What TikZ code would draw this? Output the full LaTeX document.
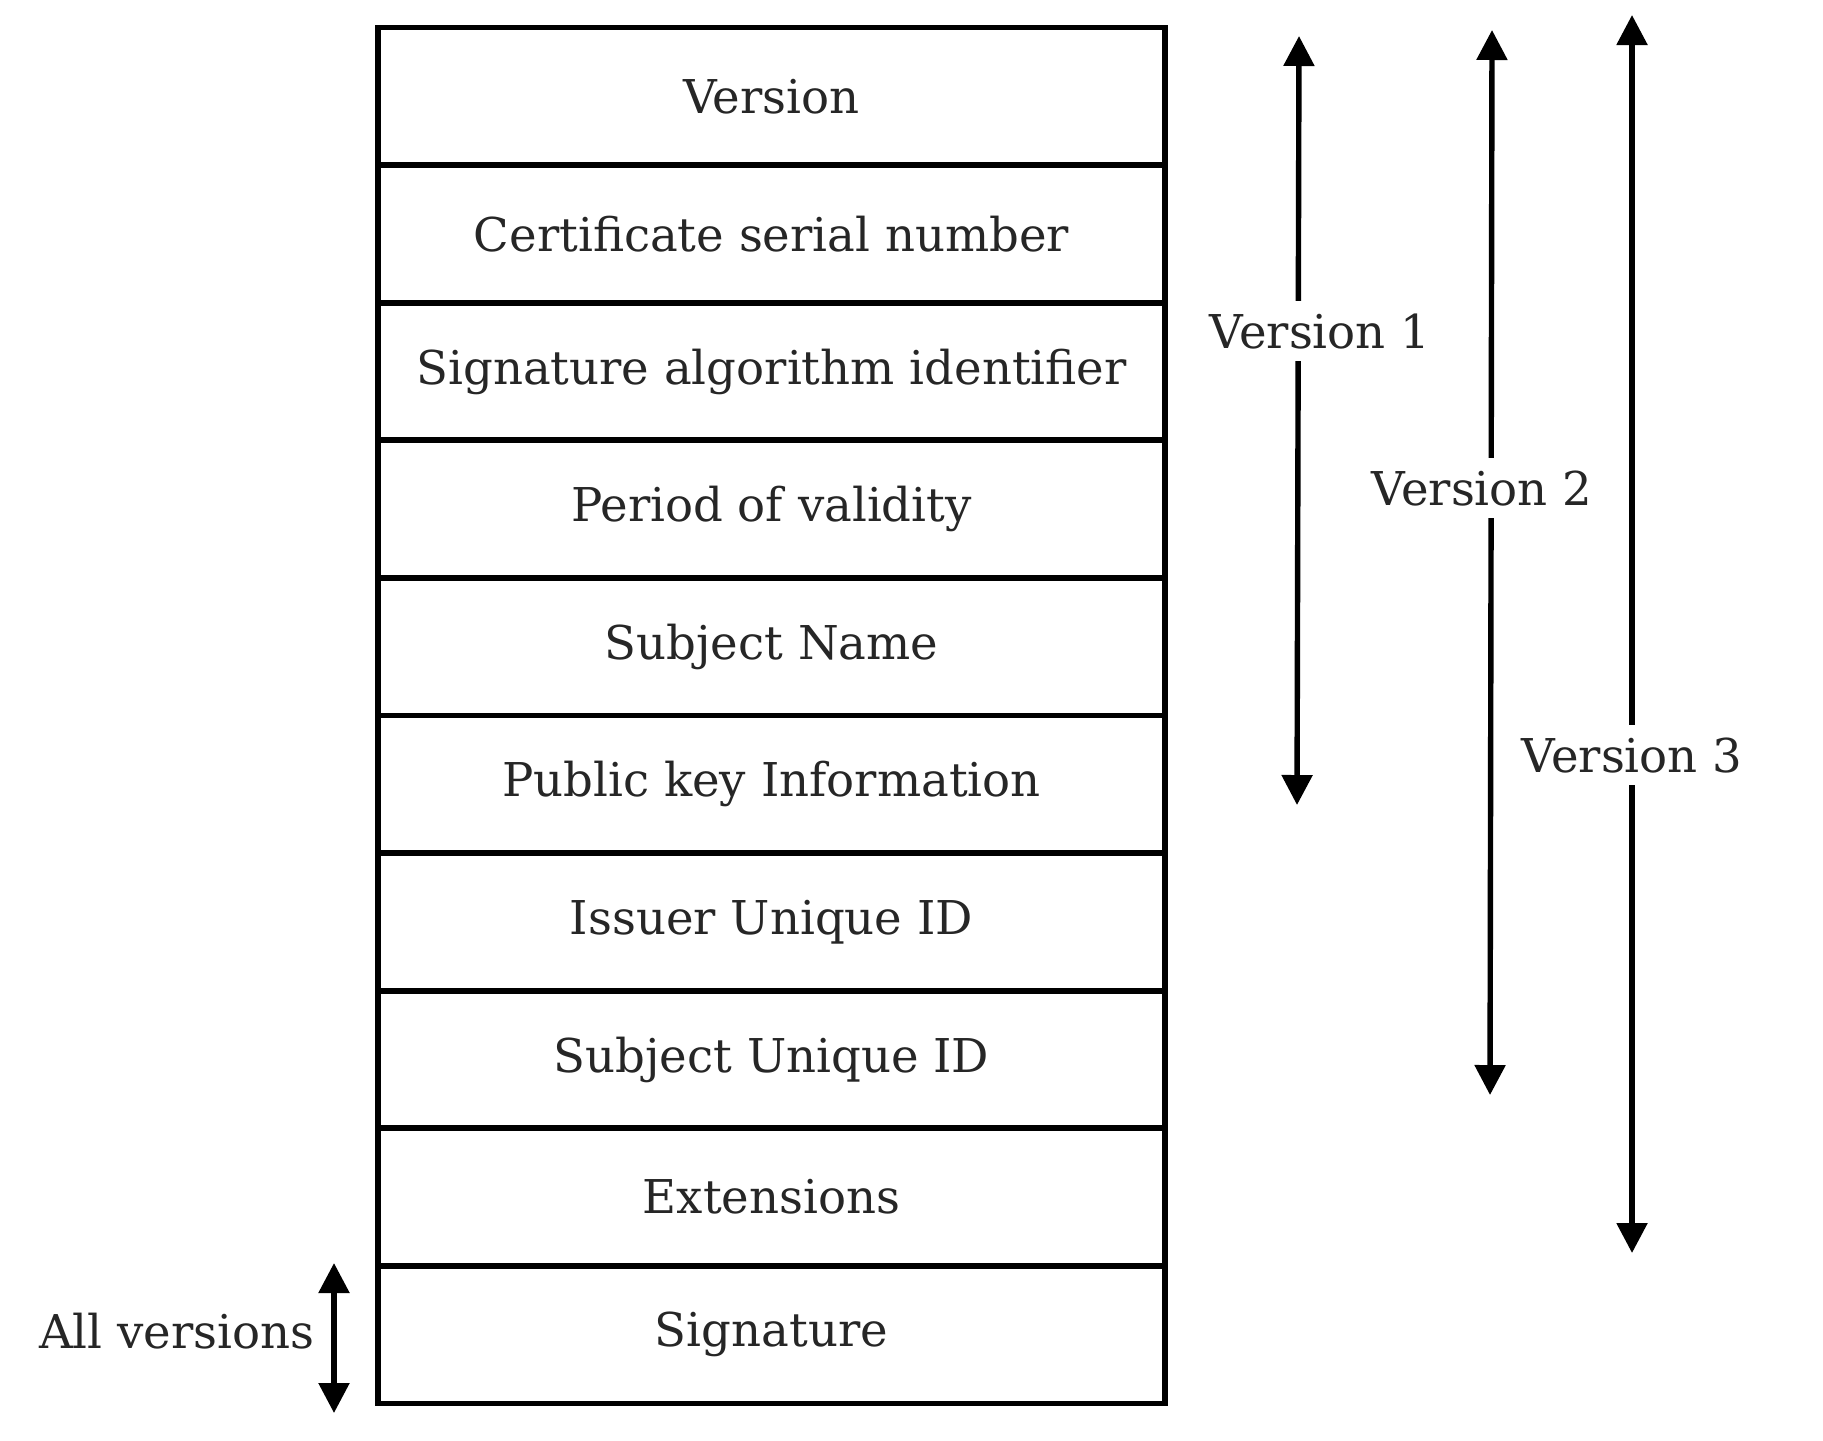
\documentclass[tikz,border=0pt]{standalone}
\usepackage{fontspec}
\setmainfont{DejaVu Serif}
\usetikzlibrary{arrows.meta}
\begin{document}
\begin{tikzpicture}[x=0.5pt,y=-0.5pt,
  field/.style={draw=black, line width=2.9pt, minimum width=393.5pt,
    minimum height=68.8pt, inner sep=0pt, outer sep=0pt,
    font=\fontsize{23.3}{27}\selectfont, text=black!85},
  span/.style={line width=2.7pt, {Triangle[length=15pt,width=15pt]}-{Triangle[length=15pt,width=15pt]}},
  spanlbl/.style={fill=white, inner sep=6pt, anchor=base,
    font=\fontsize{23.3}{27}\selectfont, text=black!85}]
\useasboundingbox (0,0) rectangle (1823,1440);

% certificate fields, top to bottom
\foreach \name/\txt [count=\i from 0] in {
  f0/Version,
  f1/Certificate serial number,
  f2/Signature algorithm identifier,
  f3/Period of validity,
  f4/Subject Name,
  f5/Public key Information,
  f6/Issuer Unique ID,
  f7/Subject Unique ID,
  f8/Extensions,
  f9/Signature}
  \node[field] (\name) at (771.5, {27.5+137.6*(\i+0.5)}) {\txt};

% version spans
\coordinate (v1t) at (1299,36);
\coordinate (v1b) at (1297,805);
\coordinate (v2t) at (1492,30);
\coordinate (v2b) at (1490,1095);
\coordinate (v3t) at (1632,15);
\coordinate (v3b) at (1632,1253);
\coordinate (avt) at (334,1263);
\coordinate (avb) at (334,1413);

\draw[span] (v1t) -- (v1b);
\draw[span] (v2t) -- (v2b);
\draw[span] (v3t) -- (v3b);
\draw[span] (avt) -- (avb);

\node[spanlbl] (l1) at (1320,348) {Version 1};
\node[spanlbl] (l2) at (1482,505) {Version 2};
\node[spanlbl] (l3) at (1632,772) {Version 3};
\node[anchor=base east, inner sep=0pt, font=\fontsize{23.3}{27}\selectfont, text=black!85]
  (lall) at (315,1348) {All versions};
\end{tikzpicture}
\end{document}
